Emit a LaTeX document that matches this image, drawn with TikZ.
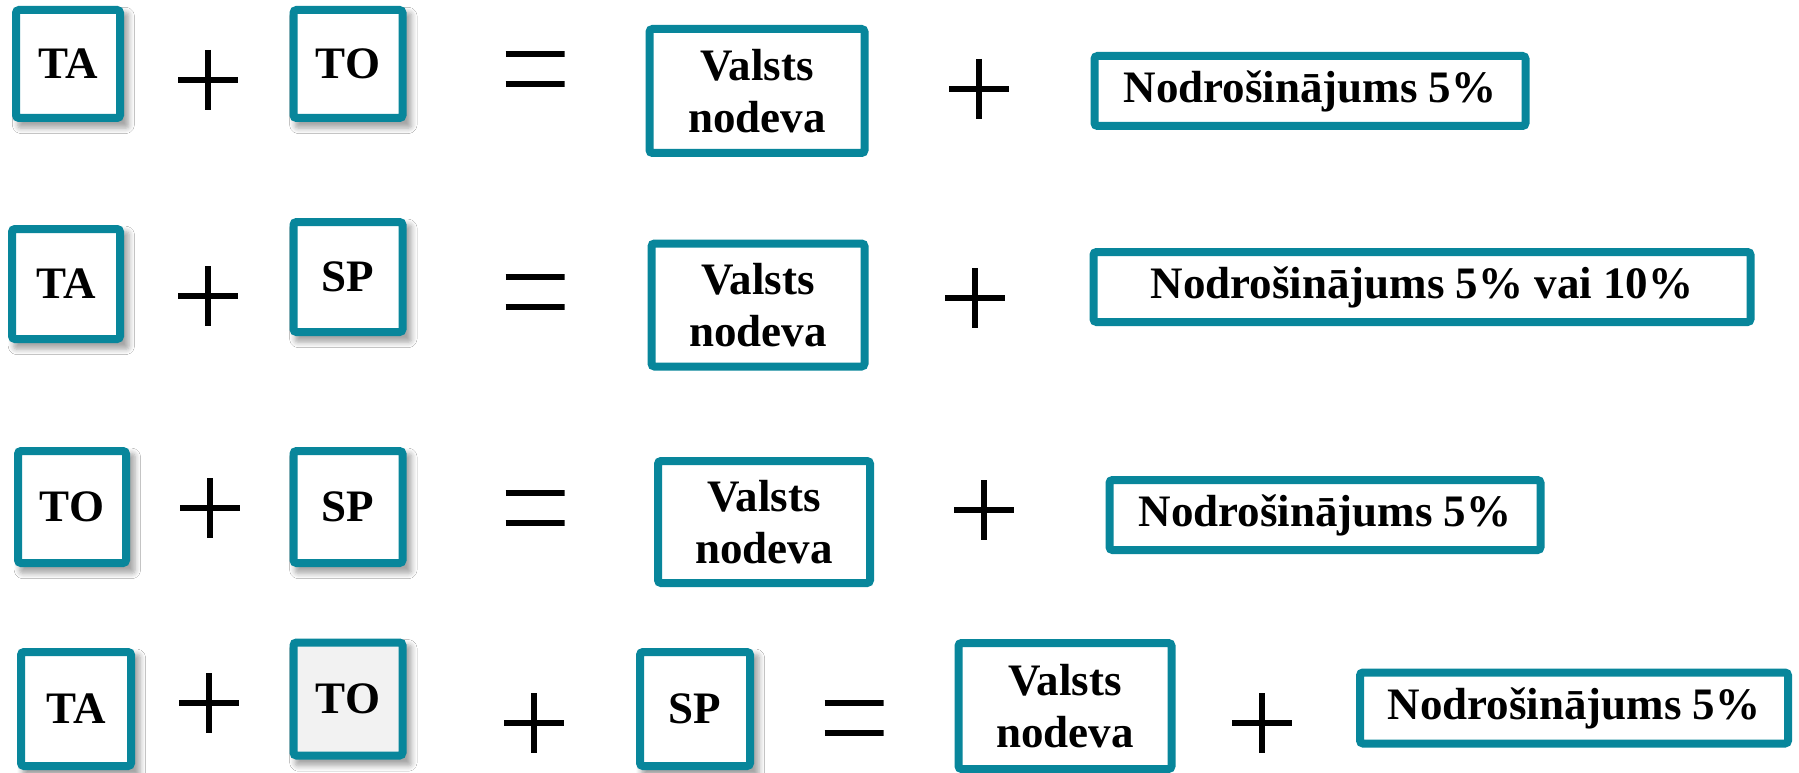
\documentclass[tikz,border=0pt]{standalone}
\usepackage{fontspec}
\setmainfont{Liberation Serif}
\usetikzlibrary{shadows.blur}
\definecolor{tealb}{RGB}{8,134,155}
\definecolor{lightfill}{RGB}{242,242,242}
\begin{document}
\begin{tikzpicture}[x=1pt,y=-1pt,
  box/.style={draw=tealb, line width=8pt, rounded corners=3pt, fill=white, inner sep=0pt,
    align=center, font=\bfseries\fontsize{45}{52}\selectfont},
  shbox/.style={box, blur shadow={shadow blur steps=6, shadow xshift=5pt, shadow yshift=-6pt,
    shadow opacity=35, shadow blur radius=5pt, shadow scale=1.07}},
  small/.style={shbox, minimum width=108pt, minimum height=110pt},
  vbox/.style={box, minimum width=213pt, minimum height=124pt},
  nbox/.style={box, minimum height=70pt},
  plussign/.style={minimum size=60pt, inner sep=0pt,
    path picture={\draw[line width=5.5pt]
      (path picture bounding box.north) -- (path picture bounding box.south)
      (path picture bounding box.west) -- (path picture bounding box.east);}},
  eqsign/.style={minimum width=59pt, minimum height=36pt, inner sep=0pt,
    path picture={\draw[line width=5.5pt]
      ([yshift=15pt]path picture bounding box.center -| path picture bounding box.west) --
      ([yshift=15pt]path picture bounding box.center -| path picture bounding box.east)
      ([yshift=-15pt]path picture bounding box.center -| path picture bounding box.west) --
      ([yshift=-15pt]path picture bounding box.center -| path picture bounding box.east);}}
]
\useasboundingbox[fill=white] (0,0) rectangle (1799,773);

% Row 1
\node[small, minimum width=104pt, minimum height=108pt] (ta1) at (68,64) {TA};
\node[plussign] (p11) at (208,80) {};
\node[small, minimum width=109pt, minimum height=108pt] (to1) at (348,64) {TO};
\node[eqsign] (eq1) at (535,69) {};
\node[vbox, minimum width=215pt] (v1) at (757,91) {Valsts\\nodeva};
\node[plussign] (p12) at (979,89) {};
\node[nbox, minimum width=431pt] (n1) at (1310,91) {Nodrošinājums 5\%};

% Row 2
\node[small] (ta2) at (66,284) {TA};
\node[plussign] (p21) at (208,296) {};
\node[small, minimum width=109pt] (sp2) at (348,277) {SP};
\node[eqsign] (eq2) at (535,292) {};
\node[vbox, minimum height=123pt] (v2) at (758,305) {Valsts\\nodeva};
\node[plussign] (p22) at (975,298) {};
\node[nbox, minimum width=657pt] (n2) at (1422,287) {Nodrošinājums 5\% vai 10\%};

% Row 3
\node[small, minimum height=112pt] (to3) at (72,507) {TO};
\node[plussign] (p31) at (210,508) {};
\node[small, minimum width=109pt, minimum height=112pt] (sp3) at (348,507) {SP};
\node[eqsign] (eq3) at (535,508) {};
\node[vbox, minimum width=212pt, minimum height=122pt] (v3) at (764,522) {Valsts\\nodeva};
\node[plussign] (p32) at (984,510) {};
\node[nbox, minimum width=431pt] (n3) at (1325,515) {Nodrošinājums 5\%};

% Row 4
\node[small, minimum width=110pt, minimum height=114pt] (ta4) at (76,709) {TA};
\node[plussign] (p41) at (209,703) {};
\node[small, fill=lightfill, minimum width=109pt, minimum height=113pt] (to4) at (348,699) {TO};
\node[plussign] (p42) at (534,723) {};
\node[small, minimum width=110pt, minimum height=114pt] (sp4) at (695,709) {SP};
\node[eqsign] (eq4) at (854,718) {};
\node[vbox, minimum height=126pt] (v4) at (1065,706) {Valsts\\nodeva};
\node[plussign] (p43) at (1262,723) {};
\node[nbox, minimum width=428pt, minimum height=71pt] (n4) at (1574,708) {Nodrošinājums 5\%};
\end{tikzpicture}
\end{document}
